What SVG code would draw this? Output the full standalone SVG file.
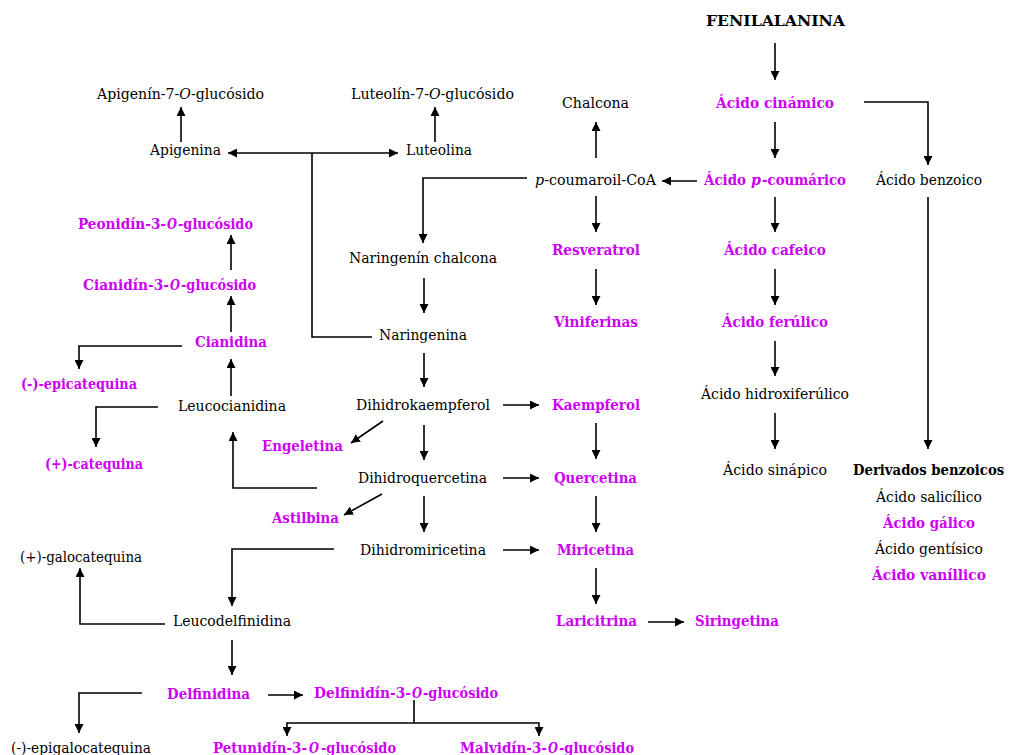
<svg xmlns="http://www.w3.org/2000/svg" width="1009" height="755" viewBox="0 0 1009 755">
<style>
text{font-family:"DejaVu Serif","Liberation Serif",serif;font-size:14px;fill:#000}
.m{fill:#cc00f2;font-weight:bold}
.b{font-weight:bold}
.i{font-style:italic}
.c line,.c polyline{stroke:#000;stroke-width:1.6;fill:none;marker-end:url(#ah)}
.c .n{marker-end:none}
</style>
<defs>
<marker id="ah" markerUnits="userSpaceOnUse" markerWidth="9" markerHeight="9" viewBox="0 0 10 10" refX="10" refY="5" orient="auto-start-reverse">
<path d="M0,0 L10,5 L0,10 z" fill="#000"/>
</marker>
</defs>
<rect width="1009" height="755" fill="#fff"/>
<g id="connectors" class="c">
<line x1="775" y1="43" x2="775" y2="80"/>
<line x1="775" y1="122" x2="775" y2="158"/>
<polyline points="864,102 928,102 928,165"/>
<line x1="697" y1="181" x2="662" y2="181"/>
<line x1="596" y1="158" x2="596" y2="122"/>
<polyline points="527,178 423,178 423,243"/>
<line x1="596" y1="196" x2="596" y2="232"/>
<line x1="596" y1="269" x2="596" y2="305"/>
<line x1="228" y1="153" x2="398" y2="153" marker-start="url(#ah)"/>
<polyline class="n" points="372,337 312,337 312,153"/>
<line x1="424" y1="278" x2="424" y2="313"/>
<line x1="181" y1="142" x2="181" y2="107"/>
<line x1="435" y1="142" x2="435" y2="107"/>
<line x1="231" y1="270" x2="231" y2="235"/>
<line x1="231" y1="332" x2="231" y2="296"/>
<line x1="231" y1="396" x2="231" y2="359"/>
<polyline points="182,346 79,346 79,369"/>
<polyline points="158,407 96,407 96,447"/>
<polyline points="317,488 233,488 233,432"/>
<line x1="383" y1="421" x2="351" y2="443"/>
<line x1="382" y1="494" x2="344" y2="515"/>
<line x1="424" y1="353" x2="424" y2="387"/>
<line x1="424" y1="425" x2="424" y2="460"/>
<line x1="424" y1="496" x2="424" y2="532"/>
<line x1="503" y1="405" x2="539" y2="405"/>
<line x1="503" y1="478" x2="539" y2="478"/>
<line x1="503" y1="550" x2="539" y2="550"/>
<line x1="596" y1="423" x2="596" y2="459"/>
<line x1="596" y1="496" x2="596" y2="532"/>
<line x1="596" y1="568" x2="596" y2="604"/>
<line x1="648" y1="622" x2="684" y2="622"/>
<line x1="775" y1="197" x2="775" y2="232"/>
<line x1="775" y1="269" x2="775" y2="305"/>
<line x1="775" y1="341" x2="775" y2="376"/>
<line x1="775" y1="413" x2="775" y2="449"/>
<line x1="928" y1="197" x2="928" y2="449"/>
<polyline points="334,549 232,549 232,606"/>
<polyline points="165,624 80,624 80,568"/>
<line x1="232" y1="640" x2="232" y2="675"/>
<polyline points="142,693 79,693 79,733"/>
<line x1="268" y1="695" x2="303" y2="695"/>
<line class="n" x1="414" y1="700" x2="414" y2="723"/>
<polyline points="414,723 287,723 287,736"/>
<polyline points="414,723 539,723 539,736"/>
</g>
<g id="fenilalanina"><text class="b" x="706" y="26" textLength="139" lengthAdjust="spacingAndGlyphs">FENILALANINA</text></g>
<g id="acido-cinamico"><text class="m" x="716" y="108" textLength="118" lengthAdjust="spacingAndGlyphs">Ácido cinámico</text></g>
<g id="acido-p-coumarico"><text class="m" y="185"><tspan x="704" textLength="42" lengthAdjust="spacingAndGlyphs">Ácido</tspan><tspan class="i" x="751" textLength="10" lengthAdjust="spacingAndGlyphs">p</tspan><tspan x="762" textLength="84" lengthAdjust="spacingAndGlyphs">-coumárico</tspan></text></g>
<g id="acido-benzoico"><text x="876" y="185" textLength="106" lengthAdjust="spacingAndGlyphs">Ácido benzoico</text></g>
<g id="chalcona"><text x="562" y="108" textLength="67" lengthAdjust="spacingAndGlyphs">Chalcona</text></g>
<g id="p-coumaroil-coa"><text x="535" y="185" textLength="121" lengthAdjust="spacingAndGlyphs"><tspan class="i">p</tspan>-coumaroil-CoA</text></g>
<g id="apigenin-7-o-glucosido"><text x="97" y="99" textLength="167" lengthAdjust="spacingAndGlyphs">Apigenín-7-<tspan class="i">O</tspan>-glucósido</text></g>
<g id="apigenina"><text x="150" y="155" textLength="71" lengthAdjust="spacingAndGlyphs">Apigenina</text></g>
<g id="luteolin-7-o-glucosido"><text x="351" y="99" textLength="163" lengthAdjust="spacingAndGlyphs">Luteolín-7-<tspan class="i">O</tspan>-glucósido</text></g>
<g id="luteolina"><text x="406" y="155" textLength="66" lengthAdjust="spacingAndGlyphs">Luteolina</text></g>
<g id="peonidin-3-o-glucosido"><text class="m" y="229"><tspan x="78" textLength="88" lengthAdjust="spacingAndGlyphs">Peonidín-3-</tspan><tspan class="i" x="167" textLength="10" lengthAdjust="spacingAndGlyphs">O</tspan><tspan x="178" textLength="75" lengthAdjust="spacingAndGlyphs">-glucósido</tspan></text></g>
<g id="cianidin-3-o-glucosido"><text class="m" y="290"><tspan x="83" textLength="86" lengthAdjust="spacingAndGlyphs">Cianidín-3-</tspan><tspan class="i" x="170" textLength="10" lengthAdjust="spacingAndGlyphs">O</tspan><tspan x="181" textLength="75" lengthAdjust="spacingAndGlyphs">-glucósido</tspan></text></g>
<g id="cianidina"><text class="m" x="195" y="347" textLength="72" lengthAdjust="spacingAndGlyphs">Cianidina</text></g>
<g id="epicatequina"><text class="m" x="21" y="389" textLength="116" lengthAdjust="spacingAndGlyphs">(-)-epicatequina</text></g>
<g id="leucocianidina"><text x="178" y="411" textLength="108" lengthAdjust="spacingAndGlyphs">Leucocianidina</text></g>
<g id="catequina"><text class="m" x="45" y="469" textLength="98" lengthAdjust="spacingAndGlyphs">(+)-catequina</text></g>
<g id="engeletina"><text class="m" x="262" y="451" textLength="81" lengthAdjust="spacingAndGlyphs">Engeletina</text></g>
<g id="astilbina"><text class="m" x="272" y="523" textLength="67" lengthAdjust="spacingAndGlyphs">Astilbina</text></g>
<g id="naringenin-chalcona"><text x="349" y="263" textLength="148" lengthAdjust="spacingAndGlyphs">Naringenín chalcona</text></g>
<g id="naringenina"><text x="379" y="340" textLength="88" lengthAdjust="spacingAndGlyphs">Naringenina</text></g>
<g id="dihidrokaempferol"><text x="356" y="410" textLength="134" lengthAdjust="spacingAndGlyphs">Dihidrokaempferol</text></g>
<g id="kaempferol"><text class="m" x="552" y="410" textLength="88" lengthAdjust="spacingAndGlyphs">Kaempferol</text></g>
<g id="dihidroquercetina"><text x="358" y="483" textLength="129" lengthAdjust="spacingAndGlyphs">Dihidroquercetina</text></g>
<g id="quercetina"><text class="m" x="554" y="483" textLength="83" lengthAdjust="spacingAndGlyphs">Quercetina</text></g>
<g id="dihidromiricetina"><text x="360" y="555" textLength="126" lengthAdjust="spacingAndGlyphs">Dihidromiricetina</text></g>
<g id="miricetina"><text class="m" x="557" y="555" textLength="77" lengthAdjust="spacingAndGlyphs">Miricetina</text></g>
<g id="resveratrol"><text class="m" x="552" y="255" textLength="88" lengthAdjust="spacingAndGlyphs">Resveratrol</text></g>
<g id="viniferinas"><text class="m" x="554" y="327" textLength="84" lengthAdjust="spacingAndGlyphs">Viniferinas</text></g>
<g id="acido-cafeico"><text class="m" x="724" y="255" textLength="102" lengthAdjust="spacingAndGlyphs">Ácido cafeico</text></g>
<g id="acido-ferulico"><text class="m" x="722" y="327" textLength="106" lengthAdjust="spacingAndGlyphs">Ácido ferúlico</text></g>
<g id="acido-hidroxiferulico"><text x="701" y="399" textLength="148" lengthAdjust="spacingAndGlyphs">Ácido hidroxiferúlico</text></g>
<g id="acido-sinapico"><text x="723" y="475" textLength="104" lengthAdjust="spacingAndGlyphs">Ácido sinápico</text></g>
<g id="derivados-benzoicos">
<text class="b" transform="translate(853,475) scale(0.8,1)" x="0" y="0" textLength="189" lengthAdjust="spacingAndGlyphs">Derivados benzoicos</text>
<text x="876" y="502" textLength="106" lengthAdjust="spacingAndGlyphs">Ácido salicílico</text>
<text class="m" x="883" y="528" textLength="92" lengthAdjust="spacingAndGlyphs">Ácido gálico</text>
<text x="875" y="554" textLength="108" lengthAdjust="spacingAndGlyphs">Ácido gentísico</text>
<text class="m" x="872" y="580" textLength="114" lengthAdjust="spacingAndGlyphs">Ácido vaníllico</text>
</g>
<g id="laricitrina"><text class="m" x="556" y="626" textLength="81" lengthAdjust="spacingAndGlyphs">Laricitrina</text></g>
<g id="siringetina"><text class="m" x="695" y="626" textLength="84" lengthAdjust="spacingAndGlyphs">Siringetina</text></g>
<g id="galocatequina"><text x="20" y="562" textLength="122" lengthAdjust="spacingAndGlyphs">(+)-galocatequina</text></g>
<g id="leucodelfinidina"><text x="173" y="626" textLength="118" lengthAdjust="spacingAndGlyphs">Leucodelfinidina</text></g>
<g id="delfinidina"><text class="m" x="167" y="699" textLength="83" lengthAdjust="spacingAndGlyphs">Delfinidina</text></g>
<g id="epigalocatequina"><text x="11" y="753" textLength="140" lengthAdjust="spacingAndGlyphs">(-)-epigalocatequina</text></g>
<g id="delfinidin-3-o-glucosido"><text class="m" y="698"><tspan x="314" textLength="97" lengthAdjust="spacingAndGlyphs">Delfinidín-3-</tspan><tspan class="i" x="412" textLength="10" lengthAdjust="spacingAndGlyphs">O</tspan><tspan x="423" textLength="75" lengthAdjust="spacingAndGlyphs">-glucósido</tspan></text></g>
<g id="petunidin-3-o-glucosido"><text class="m" y="753"><tspan x="213" textLength="94" lengthAdjust="spacingAndGlyphs">Petunidín-3-</tspan><tspan class="i" x="309" textLength="10" lengthAdjust="spacingAndGlyphs">O</tspan><tspan x="321" textLength="75" lengthAdjust="spacingAndGlyphs">-glucósido</tspan></text></g>
<g id="malvidin-3-o-glucosido"><text class="m" y="753"><tspan x="460" textLength="87" lengthAdjust="spacingAndGlyphs">Malvidín-3-</tspan><tspan class="i" x="548" textLength="10" lengthAdjust="spacingAndGlyphs">O</tspan><tspan x="559" textLength="75" lengthAdjust="spacingAndGlyphs">-glucósido</tspan></text></g>
</svg>
